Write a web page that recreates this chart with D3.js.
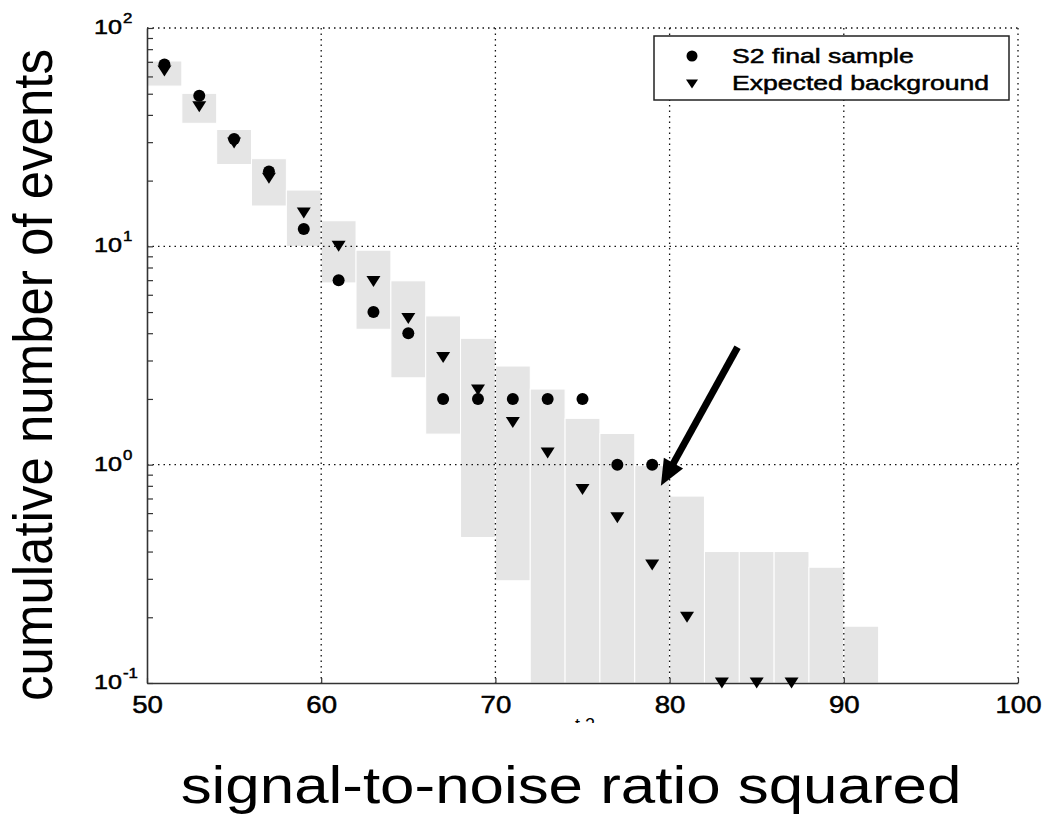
<!DOCTYPE html>
<html>
<head>
<meta charset="utf-8">
<script src="https://cdn.jsdelivr.net/npm/d3@7"></script>
<style>
    body { margin: 0; background: #fff; }
    svg { display: block; }
    text { font-family: "Liberation Sans", Arial, Helvetica, sans-serif; fill: #000; }
    .bold-ish { stroke: #000; stroke-width: 0.5; }
</style>
</head>
<body>
<div id="chart"></div>
<script>
///// DATOS //////
// bins de anchura 2 centrados en valores impares
let binCenters = d3.range(51, 93, 2);
let bgHigh = [70.6, 50.2, 34.3, 25.2, 18.1, 13.1, 9.6, 6.95, 4.8, 3.79, 2.83, 2.22, 1.63, 1.39, 0.99, 0.718, 0.40, 0.40, 0.40, 0.339, 0.182];
let bgLow  = [54.2, 36.6, 23.7, 15.3, 10.0, 6.8, 4.17, 2.5, 1.38, 0.464, 0.294, 0.1, 0.1, 0.1, 0.1, 0.1, 0.1, 0.1, 0.1, 0.1, 0.1];

let sampleX = d3.range(51, 81, 2);
let sampleY = [68, 49, 31, 22, 12, 7, 5, 4, 2, 2, 2, 2, 2, 1, 1];

let expectedX = d3.range(51, 89, 2);
let expectedY = [63.6, 43.6, 29.7, 20.5, 14.2, 10, 6.9, 4.67, 3.1, 2.2, 1.56, 1.13, 0.77, 0.571, 0.347, 0.2, 0.1, 0.1, 0.1];

let xTicks = [50, 60, 70, 80, 90, 100];
let yDecades = [0.1, 1, 10, 100];
let yExponents = ['-1', '0', '1', '2'];
let legendLabels = ['S2 final sample', 'Expected background'];

// flecha (coordenadas de datos)
let arrowFrom = [83.9, 3.45], arrowTo = [79.5, 0.8];

///// GRÁFICO //////
let W = 1043, H = 823;
let svg = d3.select('#chart').append('svg')
    .attr('width', W).attr('height', H);

svg.append('rect').attr('width', W).attr('height', H).attr('fill', '#fff');

let x = d3.scaleLinear().domain([50, 100]).range([147, 1018]);
let y = d3.scaleLog().domain([0.1, 100]).range([683, 28]);

//Cajas del fondo esperado
svg.append('g').selectAll('rect')
    .data(binCenters)
    .enter()
    .append('rect')
    .attr('x', function(d) { return x(d - 1); })
    .attr('width', function(d) { return x(d + 1) - x(d - 1); })
    .attr('y', function(d, i) { return y(bgHigh[i]); })
    .attr('height', function(d, i) { return y(bgLow[i]) - y(bgHigh[i]); })
    .attr('fill', '#e5e5e5')
    .attr('stroke', '#fff')
    .attr('stroke-width', 1);

//Rejilla punteada
let grid = svg.append('g')
    .attr('stroke', '#111')
    .attr('stroke-width', 1.3)
    .attr('stroke-dasharray', '1.5,4');

grid.selectAll('.vgrid')
    .data(xTicks.slice(1))
    .enter()
    .append('line')
    .attr('x1', function(d) { return x(d); })
    .attr('x2', function(d) { return x(d); })
    .attr('y1', y(100)).attr('y2', y(0.1));

grid.selectAll('.hgrid')
    .data(yDecades.slice(1))
    .enter()
    .append('line')
    .attr('y1', function(d) { return y(d); })
    .attr('y2', function(d) { return y(d); })
    .attr('x1', x(50)).attr('x2', x(100));

//Eje X
let xAxis = svg.append('g')
    .attr('transform', 'translate(0,' + y(0.1) + ')')
    .call(d3.axisBottom(x).tickValues(xTicks).tickSizeInner(-5).tickSizeOuter(0));

xAxis.select('.domain').attr('stroke', '#333').attr('stroke-width', 1.6);
xAxis.selectAll('.tick line').attr('stroke', '#333').attr('stroke-width', 1.2);
xAxis.selectAll('.tick text')
    .attr('class', 'bold-ish')
    .attr('font-size', 23)
    .attr('font-family', '"Liberation Sans", Arial, sans-serif')
    .attr('fill', '#000')
    .attr('dy', null)
    .attr('y', 30)
    .attr('transform', 'scale(1.2,1)');

//Eje Y (log, con ticks menores)
let yTickVals = [];
yDecades.slice(0, 3).forEach(function(dec) {
    d3.range(1, 10).forEach(function(k) { yTickVals.push(dec * k); });
});
yTickVals.push(100);

let yAxis = svg.append('g')
    .attr('transform', 'translate(' + x(50) + ',0)')
    .call(d3.axisLeft(y).tickValues(yTickVals).tickSizeInner(-6).tickSizeOuter(0).tickFormat(''));

yAxis.select('.domain').attr('stroke', '#333').attr('stroke-width', 1.6);
yAxis.selectAll('.tick line').attr('stroke', '#333').attr('stroke-width', 1.2);

let yLab = svg.append('g').attr('class', 'bold-ish');
yDecades.forEach(function(d, i) {
    let yy = y(d) + 6;
    yLab.append('text')
        .attr('transform', 'translate(122,' + yy + ') scale(1.2,1)')
        .attr('text-anchor', 'end')
        .attr('font-size', 21)
        .text('10');
    yLab.append('text')
        .attr('transform', 'translate(123,' + (yy - 11) + ') scale(1.2,1)')
        .attr('font-size', 14)
        .text(yExponents[i]);
});

//Marcadores
let triPath = 'M-7,-5.5L7,-5.5L0,5.5Z';

svg.append('g').selectAll('circle')
    .data(sampleX)
    .enter()
    .append('circle')
    .attr('cx', function(d) { return x(d); })
    .attr('cy', function(d, i) { return y(sampleY[i]); })
    .attr('r', 6)
    .attr('fill', '#000');

svg.append('g').selectAll('path')
    .data(expectedX)
    .enter()
    .append('path')
    .attr('d', triPath)
    .attr('transform', function(d, i) { return 'translate(' + x(d) + ',' + y(expectedY[i]) + ')'; })
    .attr('fill', '#000');

//Leyenda
let legend = svg.append('g');
legend.append('rect')
    .attr('x', 654).attr('y', 36)
    .attr('width', 355).attr('height', 64)
    .attr('fill', '#fff')
    .attr('stroke', '#222')
    .attr('stroke-width', 1.5);

legend.append('circle').attr('cx', 692).attr('cy', 56).attr('r', 5.5).attr('fill', '#000');
legend.append('path').attr('d', 'M-6,-4.5L6,-4.5L0,4.5Z').attr('transform', 'translate(692,84)').attr('fill', '#000');

legendLabels.forEach(function(l, i) {
    legend.append('text')
        .attr('class', 'bold-ish')
        .attr('transform', 'translate(732,' + (63 + i * 27) + ') scale(1.33,1)')
        .attr('font-size', 20)
        .text(l);
});

//Flecha
let p0 = [x(arrowFrom[0]), y(arrowFrom[1])], p1 = [x(arrowTo[0]), y(arrowTo[1])];
let dx = p1[0] - p0[0], dy = p1[1] - p0[1], len = Math.sqrt(dx * dx + dy * dy);
let ux = dx / len, uy = dy / len;
let headLen = 26, headW = 11;
let base = [p1[0] - ux * headLen, p1[1] - uy * headLen];

svg.append('line')
    .attr('x1', p0[0]).attr('y1', p0[1])
    .attr('x2', base[0] + ux * 2).attr('y2', base[1] + uy * 2)
    .attr('stroke', '#000')
    .attr('stroke-width', 7);

svg.append('path')
    .attr('d', 'M' + p1[0] + ',' + p1[1] +
        'L' + (base[0] - uy * headW) + ',' + (base[1] + ux * headW) +
        'L' + (base[0] + uy * headW) + ',' + (base[1] - ux * headW) + 'Z')
    .attr('fill', '#000');

//Resto de etiqueta original tapada
svg.append('clipPath').attr('id', 'cut')
    .append('rect').attr('x', 560).attr('y', 700).attr('width', 60).attr('height', 23);
svg.append('text')
    .attr('clip-path', 'url(#cut)')
    .attr('x', 575).attr('y', 731)
    .attr('font-size', 18)
    .text('t 2');

//Títulos de ejes
svg.append('text')
    .attr('transform', 'translate(52,375) scale(1.08,1) rotate(-90)')
    .attr('text-anchor', 'middle')
    .attr('font-size', 51)
    .text('cumulative number of events');

svg.append('text')
    .attr('transform', 'translate(571,803) scale(1.19,1)')
    .attr('text-anchor', 'middle')
    .attr('font-size', 52)
    .text('signal-to-noise ratio squared');
</script>
</body>
</html>
